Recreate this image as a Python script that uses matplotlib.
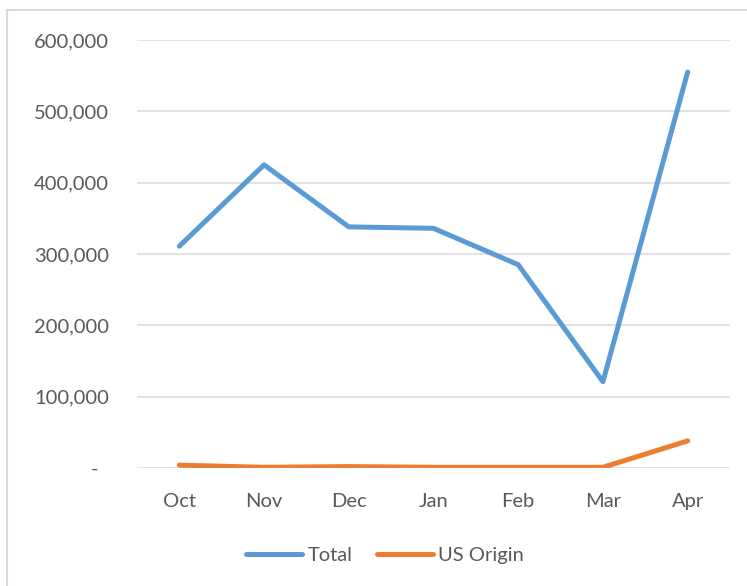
import matplotlib.pyplot as plt
from matplotlib.patches import Rectangle
from matplotlib.ticker import FuncFormatter

months = ['Oct', 'Nov', 'Dec', 'Jan', 'Feb', 'Mar', 'Apr']
total = [311000, 425000, 338000, 336000, 285000, 121000, 555000]
us_origin = [4000, 1000, 2000, 1000, 1000, 1000, 38000]
yticks = [0, 100000, 200000, 300000, 400000, 500000, 600000]

plt.rcParams['font.family'] = ['Lato', 'DejaVu Sans']

fig = plt.figure(figsize=(7.47, 5.86), dpi=100)
W, H = 747, 586
ax = fig.add_axes([137 / W, 1 - 468 / H, (730 - 137) / W, (468 - 40) / H])

# chart border (only left/top visible in the crop)
fig.patches.append(Rectangle((7 / W, -0.1), 1.2, 1 - 10 / H + 0.1,
                             transform=fig.transFigure, fill=False,
                             edgecolor='#D9D9D9', lw=1.5))

x = range(len(months))
ax.plot(x, total, color='#5B9BD5', lw=3.6, solid_capstyle='round',
        solid_joinstyle='round', label='Total', zorder=3)
ax.plot(x, us_origin, color='#ED7D31', lw=3.6, solid_capstyle='round',
        solid_joinstyle='round', label='US Origin', zorder=3)

ax.set_xlim(-0.5, len(months) - 0.5)
ax.set_ylim(0, 600000)
ax.set_yticks(yticks)
# accounting style: zero shown as a dash
ax.yaxis.set_major_formatter(FuncFormatter(lambda v, p: '-  ' if v == 0 else f'{int(v):,}'))
ax.set_xticks(list(x))
ax.set_xticklabels(months)
ax.grid(axis='y', color='#D9DDE3', lw=1.2)
ax.set_axisbelow(True)
for s in ax.spines.values():
    s.set_visible(False)
ax.tick_params(length=0, labelsize=14.5, colors='#595959')
ax.tick_params(axis='y', pad=20)
ax.tick_params(axis='x', pad=18)

leg = fig.legend(*ax.get_legend_handles_labels(), loc='center',
                 bbox_to_anchor=(385 / W, 1 - 555 / H), ncol=2, frameon=False,
                 fontsize=14.5, handlelength=2.8, handletextpad=0.25,
                 columnspacing=1.2, borderaxespad=0, borderpad=0)
for t in leg.get_texts():
    t.set_color('#595959')

fig.savefig('out.png', dpi=100)
